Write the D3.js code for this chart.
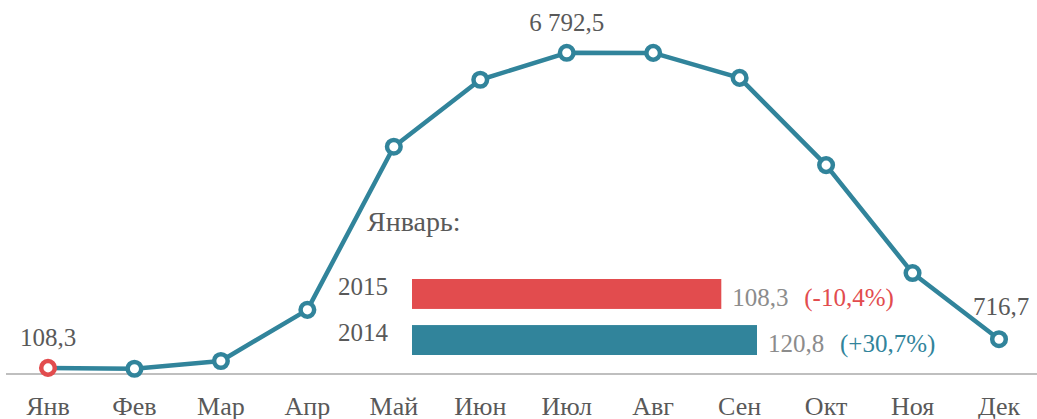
<!DOCTYPE html>
<html>
<head>
<meta charset="utf-8">
<script src="https://cdn.jsdelivr.net/npm/d3@7"></script>
<style>
  body { margin: 0; background: #fff; }
  svg text { font-family: "Liberation Serif", serif; fill: #595959; }
</style>
</head>
<body>
<div id="chart"></div>
<script>
// monthly values
const months = ["Янв","Фев","Мар","Апр","Май","Июн","Июл","Авг","Сен","Окт","Ноя","Дек"];
const values = [108.3, 90, 255, 1340, 4800, 6220, 6792.5, 6790, 6260, 4410, 2120, 716.7];
// labelled points
const labelled = {0: "108,3", 6: "6 792,5", 11: "716,7"};

// january comparison
const years = ["2015", "2014"];
const janValues = [108.3, 120.8];
const janLabels = ["108,3", "120,8"];
const janChange = ["(-10,4%)", "(+30,7%)"];

const width = 1037, height = 419;
const teal = "#31849B", red = "#E24C4E";

const svg = d3.select("#chart").append("svg")
  .attr("width", width)
  .attr("height", height);

const x = d3.scalePoint()
  .domain(months)
  .range([48, 999]);

const y = d3.scaleLinear()
  .domain([0, 7000])
  .range([373, 43]);

// baseline
svg.append("line")
  .attr("x1", 6).attr("x2", width)
  .attr("y1", y(0) + 1).attr("y2", y(0) + 1)
  .attr("stroke", "#BFBFBF")
  .attr("stroke-width", 2);

// month labels
svg.selectAll(".month")
  .data(months)
  .enter().append("text")
    .attr("class", "month")
    .attr("x", d => x(d))
    .attr("y", 415)
    .attr("text-anchor", "middle")
    .style("font-size", "26px")
    .text(d => d);

const line = d3.line()
  .x((d, i) => x(months[i]))
  .y(d => y(d));

svg.append("path")
  .datum(values)
  .attr("d", line)
  .attr("fill", "none")
  .attr("stroke", teal)
  .attr("stroke-width", 4.5)
  .attr("stroke-linejoin", "round");

svg.selectAll(".dot")
  .data(values)
  .enter().append("circle")
    .attr("class", "dot")
    .attr("cx", (d, i) => x(months[i]))
    .attr("cy", d => y(d))
    .attr("r", 6.8)
    .attr("fill", "#fff")
    .attr("stroke", (d, i) => i === 0 ? red : teal)
    .attr("stroke-width", 4.5);

// point labels
const lblOffset = {0: [0, -22], 6: [0, -22], 11: [2, -24]};
Object.keys(labelled).forEach(k => {
  const i = +k;
  svg.append("text")
    .attr("x", x(months[i]) + lblOffset[i][0])
    .attr("y", y(values[i]) + lblOffset[i][1])
    .attr("text-anchor", "middle")
    .style("font-size", "25px")
    .text(labelled[i]);
});

// January inset
svg.append("text")
  .attr("x", 367)
  .attr("y", 231)
  .style("font-size", "28px")
  .text("Январь:");

const bx = d3.scaleLinear()
  .domain([0, 120.8])
  .range([412, 757]);

const by = d3.scaleBand()
  .domain(years)
  .range([279, 355])
  .paddingInner(0.35)
  .paddingOuter(0);

const barColor = [red, teal];

svg.selectAll(".bar")
  .data(janValues)
  .enter().append("rect")
    .attr("class", "bar")
    .attr("x", bx(0))
    .attr("y", (d, i) => by(years[i]))
    .attr("width", d => bx(d) - bx(0))
    .attr("height", by.bandwidth())
    .attr("fill", (d, i) => barColor[i]);

svg.selectAll(".year")
  .data(years)
  .enter().append("text")
    .attr("class", "year")
    .attr("x", 388)
    .attr("y", d => by(d) + 16)
    .attr("text-anchor", "end")
    .style("font-size", "25px")
    .text(d => d);

svg.selectAll(".barval")
  .data(janValues)
  .enter().append("text")
    .attr("class", "barval")
    .attr("x", d => bx(d) + 11)
    .attr("y", (d, i) => by(years[i]) + 27)
    .style("font-size", "25px")
    .style("fill", "#8C8C8C")
    .text((d, i) => janLabels[i]);

svg.selectAll(".change")
  .data(janValues)
  .enter().append("text")
    .attr("class", "change")
    .attr("x", d => bx(d) + 83)
    .attr("y", (d, i) => by(years[i]) + 27)
    .style("font-size", "25px")
    .style("fill", (d, i) => barColor[i])
    .text((d, i) => janChange[i]);
</script>
</body>
</html>
